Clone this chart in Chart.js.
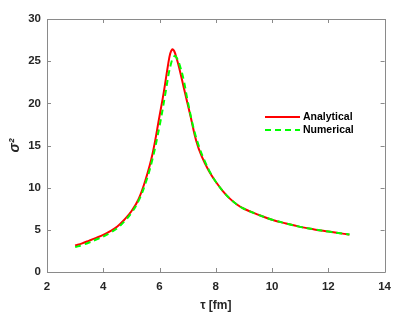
<!DOCTYPE html>
<html>
<head>
<meta charset="utf-8">
<script src="https://cdn.jsdelivr.net/npm/chart.js@4/dist/chart.umd.min.js"></script>
<style>
html,body{margin:0;padding:0;background:#fff;}
#wrap{width:399px;height:320px;position:relative;}
</style>
</head>
<body>
<div id="wrap"><canvas id="c" width="399" height="320"></canvas></div>
<script>
const tauAnalytical = [3.0,3.25,3.5,3.75,4.0,4.25,4.5,4.75,5.0,5.25,5.5,5.75,6.0,6.15,6.3,6.38,6.45,6.52,6.6,6.7,6.88,7.1,7.3,7.5,7.75,8.0,8.25,8.5,8.75,9.0,9.5,10.0,10.5,11.0,11.5,12.0,12.5,12.75];
const sigmaAnalytical = [3.15,3.4,3.72,4.05,4.4,4.85,5.4,6.2,7.2,8.6,10.9,14.0,18.5,21.3,24.5,25.9,26.4,26.2,25.4,24.2,21.6,18.5,15.6,13.7,12.0,10.7,9.6,8.7,8.0,7.5,6.8,6.2,5.75,5.35,5.05,4.8,4.55,4.45];
const tauNumerical = [3.0,3.25,3.5,3.75,4.0,4.25,4.5,4.75,5.0,5.25,5.5,5.75,6.0,6.2,6.32,6.4,6.48,6.55,6.62,6.72,6.85,7.0,7.2,7.4,7.6,7.8,8.0,8.25,8.5,8.75,9.0,9.5,10.0,10.5,11.0,11.5,12.0,12.5,12.75];
const sigmaNumerical = [2.95,3.2,3.5,3.85,4.2,4.65,5.2,6.0,7.0,8.4,10.5,13.4,17.3,21.0,23.4,24.6,25.4,25.6,25.35,24.5,22.9,20.3,17.2,14.9,13.2,11.8,10.7,9.6,8.7,8.0,7.5,6.8,6.2,5.75,5.35,5.05,4.8,4.55,4.45];
const xTicks = [2,4,6,8,10,12,14];
const yTicks = [0,5,10,15,20,25,30];
const seriesNames = ['Analytical','Numerical'];

const toXY = (xs, ys) => xs.map((x,i)=>({x:x,y:ys[i]}));
const AXIS = '#8a8a8a';
const TXT = '#262626';

const boxPlugin = {
  id:'box',
  afterDatasetsDraw(chart){
    const {ctx, chartArea:a, scales} = chart;
    ctx.save();
    ctx.strokeStyle = AXIS; ctx.lineWidth = 1;
    ctx.beginPath();
    ctx.rect(Math.round(a.left)+0.5, Math.round(a.top)+0.5, Math.round(a.right-a.left), Math.round(a.bottom-a.top));
    ctx.stroke();
    const tl = 4;
    ctx.beginPath();
    xTicks.forEach(v=>{
      const px = Math.round(scales.x.getPixelForValue(v))+0.5;
      ctx.moveTo(px,a.bottom); ctx.lineTo(px,a.bottom-tl);
      ctx.moveTo(px,a.top); ctx.lineTo(px,a.top+tl);
    });
    yTicks.forEach(v=>{
      const py = Math.round(scales.y.getPixelForValue(v))+0.5;
      ctx.moveTo(a.left,py); ctx.lineTo(a.left+tl,py);
      ctx.moveTo(a.right,py); ctx.lineTo(a.right-tl,py);
    });
    ctx.stroke();
    // legend
    const lx = 265, ly0 = 117, dy = 13;
    chart.data.datasets.forEach((ds,i)=>{
      const y = ly0 + i*dy;
      ctx.strokeStyle = ds.borderColor; ctx.lineWidth = 2;
      ctx.setLineDash(ds.borderDash || []);
      ctx.beginPath(); ctx.moveTo(lx,y); ctx.lineTo(lx+35,y); ctx.stroke();
      ctx.setLineDash([]);
      ctx.fillStyle = '#000'; ctx.font = 'bold 10.5px "Liberation Sans", Arial, sans-serif';
      ctx.textBaseline = 'middle'; ctx.textAlign = 'left';
      ctx.fillText(ds.label, lx+38, y);
    });
    ctx.restore();
  }
};

new Chart(document.getElementById('c'), {
  type:'line',
  data:{
    datasets:[
      {label:seriesNames[0], data:toXY(tauAnalytical,sigmaAnalytical), borderColor:'#ff0000', borderWidth:2, pointRadius:0, fill:false, tension:0.4, order:1},
      {label:seriesNames[1], data:toXY(tauNumerical,sigmaNumerical), borderColor:'#00ff00', borderWidth:2, borderDash:[6,4], pointRadius:0, fill:false, tension:0.4, order:0}
    ]
  },
  options:{
    responsive:false, animation:false,
    layout:{padding:{top:19,right:12,left:0,bottom:0}},
    plugins:{legend:{display:false}, tooltip:{enabled:false}},
    scales:{
      x:{type:'linear', min:2, max:14,
        afterBuildTicks(s){ s.ticks = xTicks.map(v=>({value:v})); },
        afterFit(s){ s.height = 48; },
        grid:{display:false, drawTicks:false},
        border:{display:false},
        ticks:{padding:8, color:TXT, font:{family:'"Liberation Sans", Arial, sans-serif', size:11.5, weight:'bold'}, maxRotation:0},
        title:{display:true, text:'τ [fm]', color:TXT, padding:{top:2,bottom:7}, font:{family:'"Liberation Sans", Arial, sans-serif', size:12, weight:'bold'}}
      },
      y:{type:'linear', min:0, max:30,
        afterBuildTicks(s){ s.ticks = yTicks.map(v=>({value:v})); },
        afterFit(s){ s.width = 47; },
        grid:{display:false, drawTicks:false},
        border:{display:false},
        ticks:{padding:6, color:TXT, font:{family:'"Liberation Sans", Arial, sans-serif', size:11.5, weight:'bold'}},
        title:{display:true, text:'σ²', color:TXT, padding:{top:7,bottom:0}, font:{family:'"Liberation Sans", Arial, sans-serif', size:14, weight:'bold', style:'italic'}}
      }
    }
  },
  plugins:[boxPlugin]
});
</script>
</body>
</html>
